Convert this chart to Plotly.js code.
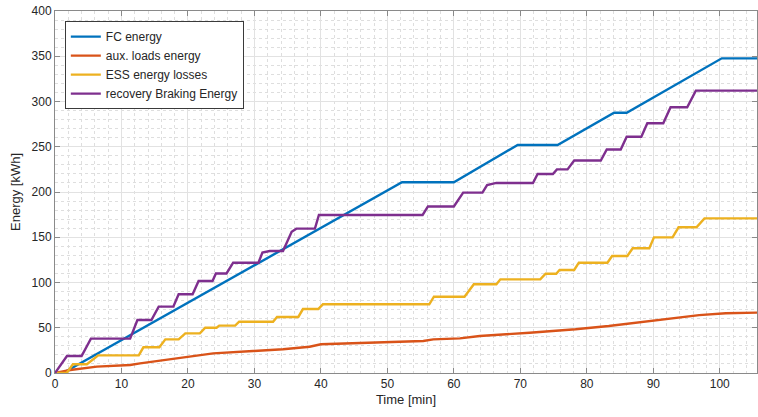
<!DOCTYPE html>
<html>
<head>
<meta charset="utf-8">
<script src="https://cdn.plot.ly/plotly-3.0.1.min.js"></script>
<style>html,body{margin:0;padding:0;background:#fff;}#chart{width:758px;height:417px;}</style>
</head>
<body>
<div id="chart"></div>
<script>
// ---- data ----
const fcTime = [0, 1.2, 52.2, 60.0, 69.6, 75.6, 84.1, 86.0, 100.3, 105.6];
const fcEnergy = [0, 0, 210.7, 210.7, 252, 252, 287.6, 287.6, 347.7, 347.7];

const auxTime = [0, 2.3, 6.3, 11.3, 12.8, 15.8, 19.8, 23.8, 29.8, 34.3, 38.3, 40.0, 55.4, 56.9, 60.9, 63.9, 71.4, 78.3, 83.3, 89.9, 96.9, 100.9, 105.6];
const auxEnergy = [0, 3.3, 7, 8.8, 10.7, 13.6, 17.3, 21.7, 24.3, 26.2, 29, 31.7, 35.4, 37.2, 38.3, 40.9, 44.5, 48.3, 51.9, 57.5, 64, 66, 66.7];

const essTime = [0, 1.75, 2.7, 4.8, 6.5, 12.6, 13.3, 15.7, 16.6, 18.6, 19.6, 21.8, 22.6, 24.3, 24.7, 27.1, 27.7, 32.8, 33.4, 36.6, 37.3, 39.6, 40.3, 56.3, 57.0, 61.6, 63.0, 66.4, 67.0, 73.0, 73.8, 75.4, 75.9, 78.1, 78.8, 83.1, 83.8, 86.1, 86.9, 89.4, 90.1, 92.9, 93.8, 96.5, 97.7, 105.6];
const essLosses = [0, 0, 9.6, 9.6, 19.5, 19.5, 28.4, 28.4, 37.2, 37.2, 43.8, 43.8, 50, 50, 52.3, 52.3, 56.7, 56.7, 61.9, 61.9, 70.7, 70.7, 75.9, 75.9, 84.3, 84.3, 98, 98, 103.5, 103.5, 109.7, 109.7, 113.8, 113.8, 121.9, 121.9, 129.3, 129.3, 137.8, 137.8, 149.9, 149.9, 161, 161, 170.9, 170.9];

const recTime = [0, 1.8, 4.0, 5.4, 11.3, 12.4, 14.5, 15.6, 17.8, 18.6, 20.7, 21.6, 23.7, 24.2, 25.8, 26.8, 30.6, 31.2, 32.3, 34.3, 35.6, 36.3, 39.1, 39.7, 55.3, 56.1, 60.0, 61.4, 64.3, 65.0, 66.4, 71.9, 72.6, 74.9, 75.5, 77.1, 78.1, 82.1, 83.0, 85.1, 86.0, 88.2, 89.1, 91.5, 92.6, 95.1, 96.4, 105.6];
const recEnergy = [0, 18.8, 18.8, 38, 38, 58.6, 58.6, 73.3, 73.3, 87, 87, 101.6, 101.6, 110, 110, 121.9, 121.9, 133, 134.8, 134.8, 156, 159.5, 159.5, 174.6, 174.6, 184, 184, 199.3, 199.3, 207.7, 210, 210, 219.9, 219.9, 225, 225, 234.8, 234.8, 247, 247, 261, 261, 275.9, 275.9, 293.6, 293.6, 312, 312];

const seriesNames = ['FC energy', 'aux. loads energy', 'ESS energy losses', 'recovery Braking Energy'];
const xTicks = [0, 10, 20, 30, 40, 50, 60, 70, 80, 90, 100];
const yTicks = [0, 50, 100, 150, 200, 250, 300, 350, 400];

// ---- styling ----
const colors = ['#0072BD', '#D95319', '#EDB120', '#7E2F8E'];
const lw = 2.4;
const xs = [fcTime, auxTime, essTime, recTime];
const ys = [fcEnergy, auxEnergy, essLosses, recEnergy];

const traces = seriesNames.map((n, i) => ({
  x: xs[i], y: ys[i], name: n, type: 'scatter', mode: 'lines',
  line: {color: colors[i], width: lw}
}));

const axisCommon = {
  showline: true, linecolor: '#8a8a8a', linewidth: 1, mirror: 'ticks',
  ticks: 'inside', ticklen: 5, tickcolor: '#8a8a8a',
  showgrid: true, gridcolor: '#e2e2e2', gridwidth: 1,
  zeroline: false,
  tickfont: {family: 'Liberation Sans, Arial, sans-serif', size: 12, color: '#262626'},
};

const layout = {
  width: 758, height: 417,
  margin: {l: 55, r: 1, t: 11, b: 44},
  paper_bgcolor: '#fff', plot_bgcolor: '#fff',
  showlegend: true,
  font: {family: 'Liberation Sans, Arial, sans-serif', color: '#262626'},
  xaxis: Object.assign({}, axisCommon, {
    range: [0, 105.6], tickvals: xTicks, ticktext: xTicks.map(String),
    minor: {dtick: 2, showgrid: true, gridcolor: '#dedede', griddash: 'dot', gridwidth: 1, ticks: ''},
    title: {text: 'Time [min]', font: {size: 13, color: '#262626'}, standoff: 4}
  }),
  yaxis: Object.assign({}, axisCommon, {
    range: [0, 400], tickvals: yTicks, ticktext: yTicks.map(String),
    minor: {dtick: 10, showgrid: true, gridcolor: '#dedede', griddash: 'dot', gridwidth: 1, ticks: ''},
    title: {text: 'Energy [kWh]', font: {size: 13, color: '#262626'}, standoff: 8}
  }),
  legend: {
    x: 0.014, y: 0.972, xanchor: 'left', yanchor: 'top',
    bgcolor: '#ffffff', bordercolor: '#3a3a3a', borderwidth: 1,
    font: {size: 12, color: '#262626'}, tracegroupgap: 0
  }
};

Plotly.newPlot('chart', traces, layout, {staticPlot: true, displayModeBar: false});
</script>
</body>
</html>
